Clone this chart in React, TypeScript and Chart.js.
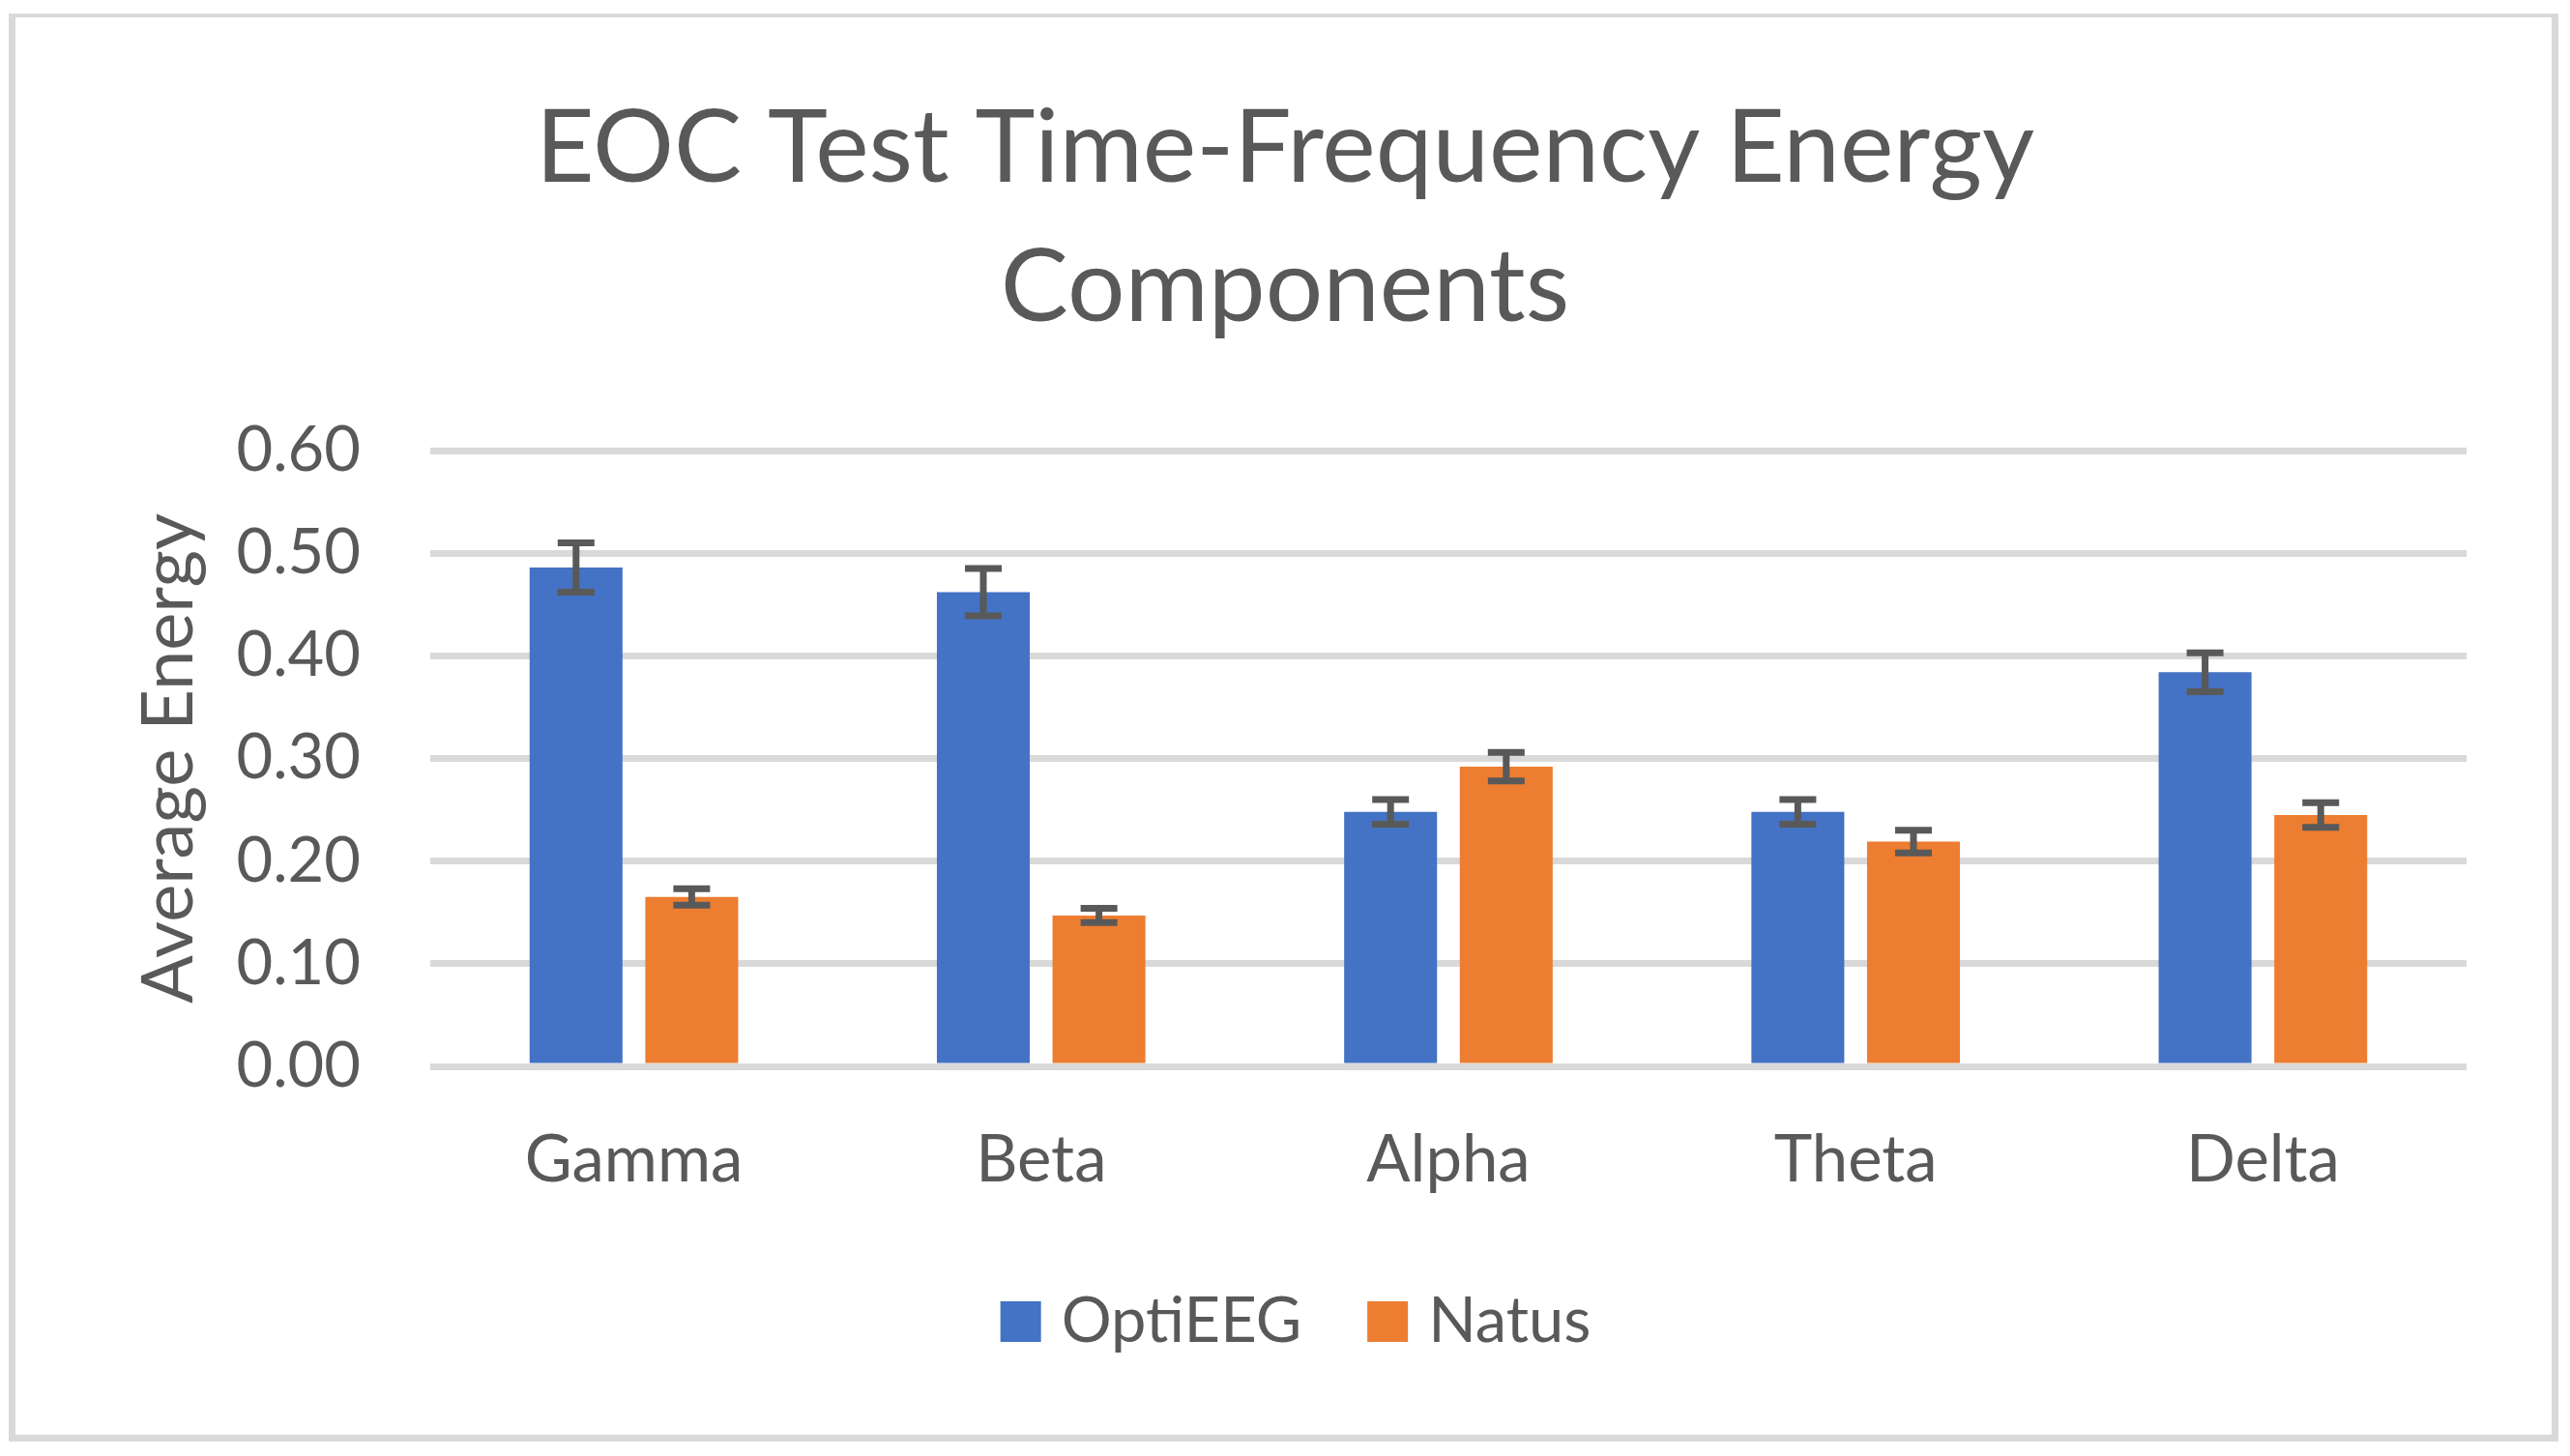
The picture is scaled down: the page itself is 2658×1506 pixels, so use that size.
import React, { useEffect, useRef } from "react";
import { Chart, registerables } from "chart.js";

Chart.register(...registerables);

// ---- data ----
const categories = ["Gamma", "Beta", "Alpha", "Theta", "Delta"];
const seriesNames = ["OptiEEG", "Natus"];
const optiEEG = [0.486, 0.462, 0.248, 0.248, 0.384];
const optiEEGErr = [0.024, 0.023, 0.012, 0.012, 0.019];
const natus = [0.165, 0.147, 0.292, 0.219, 0.245];
const natusErr = [0.008, 0.007, 0.014, 0.011, 0.012];
const yTicks = [0, 0.1, 0.2, 0.3, 0.4, 0.5, 0.6];
const titleLines = ["EOC Test Time-Frequency Energy", "Components"];
const yAxisTitle = "Average Energy";

// ---- styles ----
const W = 2642;
const H = 1490;
const BLUE = "#4472C4";
const ORANGE = "#ED7D31";
const TEXT = "#595959";
const GRID = "#D9D9D9";
const ERR = "#595959";
const FONT = "Lato";

const errors = [optiEEGErr, natusErr];
const colors = [BLUE, ORANGE];

const framePlugin = {
  id: "frame",
  beforeDraw(chart: any) {
    const ctx = chart.ctx;
    ctx.save();
    ctx.fillStyle = "#FFFFFF";
    ctx.fillRect(0, 0, chart.width, chart.height);
    ctx.fillStyle = GRID;
    ctx.fillRect(1, 6, 7, 1477); // left
    ctx.fillRect(1, 6, 2637, 4); // top
    ctx.fillRect(2631, 6, 7, 1477); // right
    ctx.fillRect(1, 1476, 2637, 7); // bottom
    ctx.restore();
  },
};

const errorBarPlugin = {
  id: "errorBars",
  afterDatasetsDraw(chart: any) {
    const ctx = chart.ctx;
    const yScale = chart.scales.y;
    ctx.save();
    ctx.strokeStyle = ERR;
    ctx.lineWidth = 7;
    ctx.lineCap = "butt";
    chart.data.datasets.forEach((ds: any, di: number) => {
      const meta = chart.getDatasetMeta(di);
      meta.data.forEach((bar: any, i: number) => {
        const v = ds.data[i];
        const e = errors[di][i];
        const yTop = yScale.getPixelForValue(v + e);
        const yBot = yScale.getPixelForValue(v - e);
        const x = bar.x;
        const half = 19;
        ctx.beginPath();
        ctx.moveTo(x, yTop);
        ctx.lineTo(x, yBot);
        ctx.moveTo(x - half, yTop);
        ctx.lineTo(x + half, yTop);
        ctx.moveTo(x - half, yBot);
        ctx.lineTo(x + half, yBot);
        ctx.stroke();
      });
    });
    ctx.restore();
  },
};

const titleLegendPlugin = {
  id: "titleLegend",
  afterDraw(chart: any) {
    const ctx = chart.ctx;
    ctx.save();
    ctx.fillStyle = TEXT;
    ctx.textAlign = "center";
    ctx.textBaseline = "alphabetic";
    ctx.font = `105px ${FONT}`;
    ctx.fillText(titleLines[0], W / 2, 180);
    ctx.fillText(titleLines[1], W / 2, 324);

    // legend
    ctx.font = `65px ${FONT}`;
    const box = 42;
    const gap = 21;
    const itemGap = 68;
    const widths = seriesNames.map((n) => ctx.measureText(n).width);
    const total =
      widths.reduce((a, b) => a + b, 0) + seriesNames.length * (box + gap) + itemGap * (seriesNames.length - 1);
    let x = 1332 - total / 2;
    const baseline = 1380;
    ctx.textAlign = "left";
    seriesNames.forEach((n, i) => {
      ctx.fillStyle = colors[i];
      ctx.fillRect(x, baseline - box, box, box);
      x += box + gap;
      ctx.fillStyle = TEXT;
      ctx.fillText(n, x, baseline);
      x += widths[i] + itemGap;
    });
    ctx.restore();
  },
};

export default function App() {
  const ref = useRef<HTMLCanvasElement>(null);
  useEffect(() => {
    if (!ref.current) return;
    const chart = new Chart(ref.current, {
      type: "bar",
      data: {
        labels: categories,
        datasets: [
          {
            label: seriesNames[0],
            data: optiEEG,
            backgroundColor: BLUE,
            categoryPercentage: 0.568,
            barPercentage: 0.803,
          },
          {
            label: seriesNames[1],
            data: natus,
            backgroundColor: ORANGE,
            categoryPercentage: 0.568,
            barPercentage: 0.803,
          },
        ],
      },
      options: {
        responsive: false,
        animation: false,
        devicePixelRatio: 1,
        layout: { padding: { top: 458, right: 99, bottom: 0, left: 0 } },
        plugins: {
          legend: { display: false },
          title: { display: false },
          tooltip: { enabled: false },
        },
        scales: {
          x: {
            grid: { display: false },
            border: { display: false },
            ticks: {
              color: TEXT,
              font: { family: FONT, size: 67 },
              padding: 49,
              maxRotation: 0,
            },
            afterFit: (s: any) => {
              s.height = 395;
            },
          },
          y: {
            min: 0,
            max: 0.6,
            afterBuildTicks: (s: any) => {
              s.ticks = yTicks.map((v) => ({ value: v }));
            },
            grid: { color: GRID, lineWidth: 7, drawTicks: false },
            border: { display: false },
            ticks: {
              color: TEXT,
              font: { family: FONT, size: 65 },
              padding: 72,
              callback: (v: any) => Number(v).toFixed(2),
            },
            title: {
              display: true,
              text: yAxisTitle,
              color: TEXT,
              font: { family: FONT, size: 74 },
              padding: { top: 123, bottom: 0 },
            },
            afterFit: (s: any) => {
              s.width = 437;
            },
          },
        },
      },
      plugins: [framePlugin, errorBarPlugin, titleLegendPlugin],
    });
    return () => chart.destroy();
  }, []);
  return <canvas ref={ref} width={W} height={H} style={{ display: "block", width: W, height: H }} />;
}
